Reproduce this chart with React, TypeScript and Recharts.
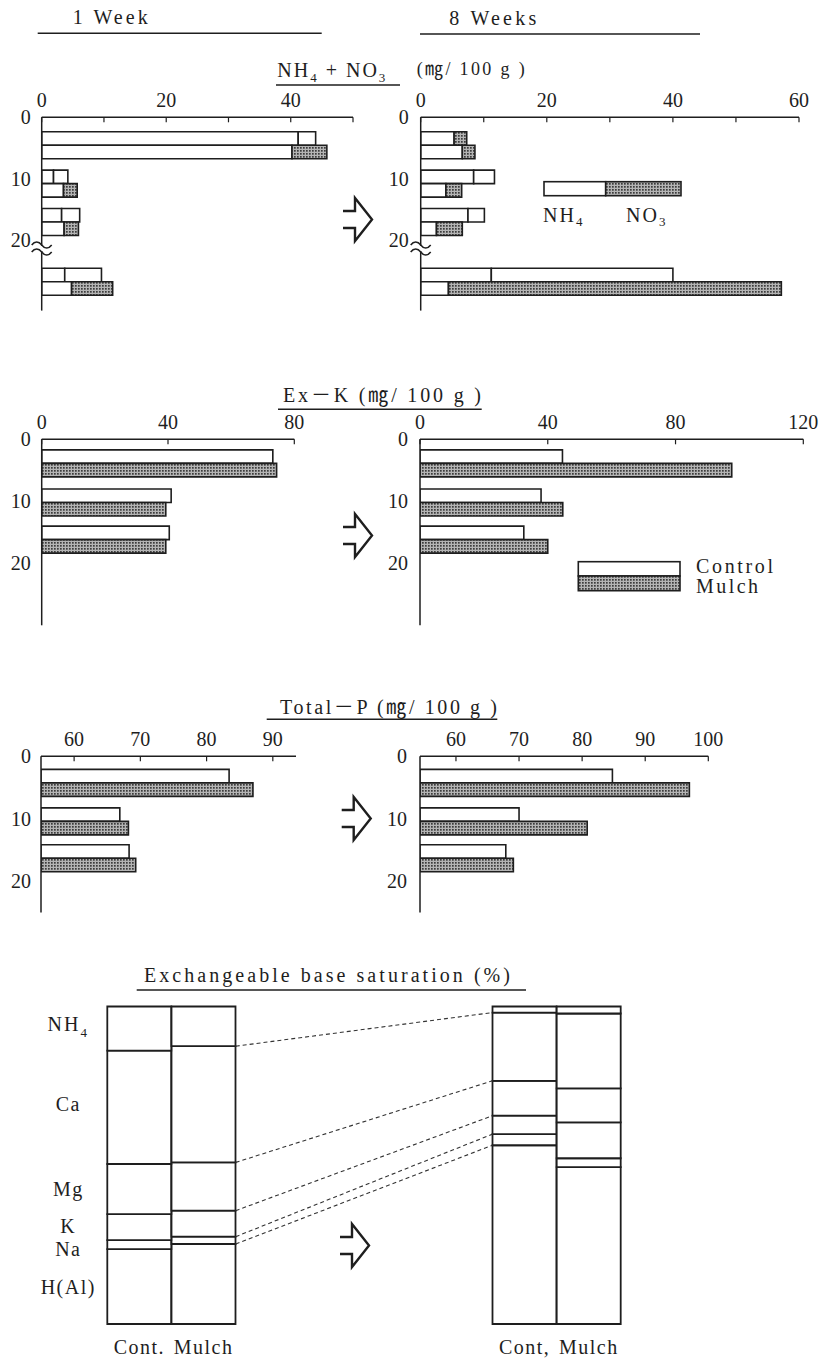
import React from "react";
import { BarChart, Bar, XAxis, YAxis, Cell, ReferenceLine } from "recharts";

const SERIF = "'Liberation Serif', 'DejaVu Serif', serif";
const INK = "#1e1e1e";
const DOTS = "url(#dots)";
const XH = 30;
const YW = 40;

// NH4 + NO3 (mg/100 g); the last layer sits below the axis break
const nDepth = [4.5, 10.75, 17, 26.75];
const n1ContNH4 = [41.2, 1.9, 3.2, 3.7];
const n1ContNO3 = [2.8, 2.3, 2.9, 5.9];
const n1MulchNH4 = [40.2, 3.5, 3.6, 4.8];
const n1MulchNO3 = [5.6, 2.2, 2.3, 6.6];
const n8ContNH4 = [5.3, 8.4, 7.5, 11.2];
const n8ContNO3 = [2.0, 3.3, 2.6, 28.8];
const n8MulchNH4 = [6.6, 4.0, 2.5, 4.4];
const n8MulchNO3 = [2.0, 2.5, 4.1, 52.8];

// Ex-K (mg/100 g)
const kDepth = [3.9, 10.2, 16.2];
const k1Cont = [73.2, 41.0, 40.4];
const k1Mulch = [74.4, 39.3, 39.3];
const k8Cont = [44.6, 37.9, 32.5];
const k8Mulch = [97.6, 44.7, 40.0];

// Total-P (mg/100 g)
const pDepth = [4.25, 10.4, 16.3];
const p1Cont = [83.4, 66.9, 68.3];
const p1Mulch = [87.0, 68.2, 69.3];
const p8Cont = [84.8, 70.0, 67.9];
const p8Mulch = [97.0, 80.8, 69.1];

const depthTicks = [0, 10, 20];
const nTicks1 = [0, 10, 20, 30, 40, 50];
const nLabels1 = [0, 20, 40];
const nTicks8 = [0, 10, 20, 30, 40, 50, 60];
const nLabels8 = [0, 20, 40, 60];
const kTicks1 = [0, 40, 80];
const kTicks8 = [0, 40, 80, 120];
const pTicks1 = [60, 70, 80, 90];
const pTicks8 = [60, 70, 80, 90, 100];

// Exchangeable base saturation (%), top to bottom
const ionKeys = ["NH4", "Ca", "Mg", "K", "Na", "H"];
const ionNames = ["NH4", "Ca", "Mg", "K", "Na", "H(Al)"];
const bs1Cont = [13.9, 35.7, 15.8, 8.2, 2.8, 23.6];
const bs1Mulch = [12.5, 36.6, 15.2, 8.2, 2.3, 25.2];
const bs8Cont = [1.9, 21.5, 11.0, 5.8, 3.5, 56.3];
const bs8Mulch = [2.2, 23.6, 10.7, 11.3, 2.8, 49.4];
const colKeys = ["c1", "m1", "s1", "s2", "s3", "s4", "c8", "m8"];
const colLabels = ["Cont.", "Mulch", "", "", "", "", "Cont,", "Mulch"];

const axisStyle = { stroke: INK, strokeWidth: 1.5 };
const tickFont = { fontSize: 20, fontFamily: SERIF, fill: INK };

type Geo = { left: number; top: number; width: number; height: number; x0: number; x1: number; y0: number; y1: number };

const nRows = (cN: number[], cO: number[], mN: number[], mO: number[]) =>
  nDepth.map((d, i) => ({ depth: d, cNH4: cN[i], cNO3: cO[i], mNH4: mN[i], mNO3: mO[i] }));
const pairRows = (depth: number[], c: number[], m: number[]) =>
  depth.map((d, i) => ({ depth: d, control: c[i], mulch: m[i] }));

function DepthPanel({ geo, data, domain, ticks, labels, depthMax, gap, children }: any) {
  const margin = {
    top: geo.y0 - geo.top - XH,
    left: geo.x0 - geo.left - YW,
    right: geo.left + geo.width - geo.x1,
    bottom: geo.top + geo.height - geo.y1,
  };
  return (
    <div style={{ position: "absolute", left: geo.left, top: geo.top }}>
      <BarChart width={geo.width} height={geo.height} data={data} layout="vertical" margin={margin} barGap={0} barSize={13.5}>
        <XAxis
          type="number"
          orientation="top"
          domain={domain}
          ticks={ticks}
          interval={0}
          allowDataOverflow
          height={XH}
          tickFormatter={(v: number) => (labels.includes(v) ? String(v) : "")}
          axisLine={axisStyle}
          tickLine={{ stroke: INK, strokeWidth: 1.2 }}
          tickSize={-5}
          tickMargin={15}
          tick={tickFont}
        />
        <YAxis
          type="number"
          dataKey="depth"
          domain={[0, depthMax]}
          ticks={depthTicks}
          interval={0}
          allowDataOverflow
          width={YW}
          axisLine={axisStyle}
          tickLine={false}
          tickSize={0}
          tickMargin={gap}
          tick={tickFont}
        />
        {children}
      </BarChart>
    </div>
  );
}

const bar = { stroke: INK, strokeWidth: 1.6, isAnimationActive: false };

function NitrogenBars({ shadeFirstControl }: { shadeFirstControl: boolean }) {
  return [
    <Bar key="a" dataKey="cNH4" stackId="c" fill="#fff" {...bar} />,
    <Bar key="b" dataKey="cNO3" stackId="c" fill="#fff" {...bar}>
      {nDepth.map((_, i) => (
        <Cell key={i} fill={shadeFirstControl && i === 0 ? DOTS : "#fff"} />
      ))}
    </Bar>,
    <Bar key="c" dataKey="mNH4" stackId="m" fill="#fff" {...bar} />,
    <Bar key="d" dataKey="mNO3" stackId="m" fill={DOTS} {...bar} />,
  ];
}

function pairBars() {
  return [
    <Bar key="c" dataKey="control" fill="#fff" {...bar} />,
    <Bar key="m" dataKey="mulch" fill={DOTS} {...bar} />,
  ];
}

// small nudges so the K / Na names do not collide (as in the printed figure)
const ionNudge: Record<string, number> = { NH4: -5, Ca: -3, K: -1, Na: 4 };

function IonLabel(p: any, i: number) {
  if (p.index !== 0) return null;
  const name = ionNames[i];
  const cx = p.x - 39;
  const cy = p.y + p.height / 2 + (ionNudge[ionKeys[i]] || 0);
  if (name === "NH4") {
    return (
      <text x={cx} y={cy} textAnchor="middle" dominantBaseline="central" fontFamily={SERIF} fontSize={20} fill={INK} letterSpacing={2}>
        NH<tspan fontSize={13} dy={8}>4</tspan>
      </text>
    );
  }
  return (
    <text x={cx} y={cy} textAnchor="middle" dominantBaseline="central" fontFamily={SERIF} fontSize={20} fill={INK} letterSpacing={1.5}>
      {name}
    </text>
  );
}

function SaturationChart() {
  const cols: Record<string, number[]> = { c1: bs1Cont, m1: bs1Mulch, c8: bs8Cont, m8: bs8Mulch };
  const data = colKeys.map((k) => {
    const row: Record<string, any> = { col: k };
    const v = cols[k];
    if (v) ionKeys.forEach((ion, i) => (row[ion] = v[i]));
    return row;
  });
  const bounds = (v: number[]) => v.slice(0, 5).map((_, i) => 100 - v.slice(0, i + 1).reduce((a, b) => a + b, 0));
  const from = bounds(bs1Mulch);
  const to = bounds(bs8Cont);
  const stackOrder = ionKeys.map((k, i) => ({ k, i })).reverse();
  return (
    <div style={{ position: "absolute", left: 0, top: 990 }}>
      <BarChart width={823} height={370} data={data} margin={{ top: 16.5, left: 107.3, right: 202.1, bottom: 6 }} barCategoryGap={0} barGap={0}>
        <XAxis
          dataKey="col"
          type="category"
          interval={0}
          tickFormatter={(k: string) => colLabels[colKeys.indexOf(k)]}
          axisLine={false}
          tickLine={false}
          tickSize={0}
          tickMargin={16}
          height={XH}
          tick={{ ...tickFont, letterSpacing: 1.5 }}
        />
        <YAxis hide type="number" domain={[0, 100]} />
        {stackOrder.map(({ k, i }) => (
          <Bar
            key={k}
            dataKey={k}
            stackId="s"
            fill="#fff"
            stroke={INK}
            strokeWidth={1.8}
            isAnimationActive={false}
            label={(p: any) => IonLabel(p, i)}
          />
        ))}
        {from.map((y, i) => (
          <ReferenceLine
            key={i}
            segment={[{ x: "s1", y }, { x: "c8", y: to[i] }]}
            position="start"
            stroke="#333"
            strokeWidth={1.1}
            strokeDasharray="4 3"
          />
        ))}
      </BarChart>
    </div>
  );
}

function Arrow({ x, y }: { x: number; y: number }) {
  return (
    <path
      d={`M${x} ${y + 13}H${x + 12}V${y}L${x + 29} ${y + 21.5}L${x + 12} ${y + 43}V${y + 30}H${x}`}
      fill="none"
      stroke={INK}
      strokeWidth={2.4}
    />
  );
}

function AxisBreak({ x, y }: { x: number; y: number }) {
  const wave = (yy: number) => `M${x - 10} ${yy}c3 -4 7 -4 10 0s7 4 10 0`;
  return (
    <g>
      <rect x={x - 3} y={y + 1} width={6} height={5} fill="#fff" />
      <path d={wave(y)} fill="none" stroke={INK} strokeWidth={1.5} />
      <path d={wave(y + 7)} fill="none" stroke={INK} strokeWidth={1.5} />
    </g>
  );
}

const txt = { fontFamily: SERIF, fontSize: 20, fill: INK };
const unitFont = "'Liberation Serif', 'DejaVu Serif', 'Noto Sans CJK JP', serif";

function Overlay() {
  return (
    <svg width={823} height={1360} style={{ position: "absolute", left: 0, top: 0, pointerEvents: "none" }}>
      <defs>
        <pattern id="dots" width={3} height={3} patternUnits="userSpaceOnUse">
          <rect width={3} height={3} fill="#b4b4b4" />
          <rect width={1.7} height={1.7} fill="#3c3c3c" />
        </pattern>
      </defs>
      <text x={72.7} y={24} textLength={75} lengthAdjust="spacing" {...txt}>1 Week</text>
      <line x1={37.7} x2={321.7} y1={33.3} y2={33.3} stroke={INK} strokeWidth={1.5} />
      <text x={449.3} y={25.3} textLength={87} lengthAdjust="spacing" {...txt}>8 Weeks</text>
      <line x1={420} x2={700} y1={34} y2={34} stroke={INK} strokeWidth={1.5} />

      <text x={277.3} y={77} {...txt} letterSpacing={2}>
        NH<tspan fontSize={13} dy={5}>4</tspan>
        <tspan dy={-5}> + NO</tspan>
        <tspan fontSize={13} dy={5}>3</tspan>
      </text>
      <line x1={276} x2={400} y1={85} y2={85} stroke={INK} strokeWidth={1.5} />
      <text x={416.7} y={75} textLength={108} lengthAdjust="spacing" {...txt} fontFamily={unitFont} fontSize={18}>(㎎/ 100 g )</text>

      <rect x={544} y={181.7} width={61.7} height={14} fill="#fff" stroke={INK} strokeWidth={1.6} />
      <rect x={605.7} y={181.7} width={75.3} height={14} fill={DOTS} stroke={INK} strokeWidth={1.6} />
      <text x={543} y={222} {...txt} letterSpacing={2}>
        NH<tspan fontSize={13} dy={4}>4</tspan>
      </text>
      <text x={626} y={222} {...txt} letterSpacing={2}>
        NO<tspan fontSize={13} dy={4}>3</tspan>
      </text>

      <text x={283} y={402} textLength={198} lengthAdjust="spacing" {...txt} fontFamily={unitFont}>Ex－K (㎎/ 100 g )</text>
      <line x1={278} x2={481.7} y1={409.3} y2={409.3} stroke={INK} strokeWidth={1.5} />

      <rect x={578.3} y={561.7} width={101.7} height={14.3} fill="#fff" stroke={INK} strokeWidth={1.6} />
      <rect x={578.3} y={576} width={101.7} height={14.7} fill={DOTS} stroke={INK} strokeWidth={1.6} />
      <text x={696} y={573} textLength={77} lengthAdjust="spacing" {...txt}>Control</text>
      <text x={696} y={593} textLength={62} lengthAdjust="spacing" {...txt}>Mulch</text>

      <text x={280} y={713.7} textLength={217} lengthAdjust="spacing" {...txt} fontFamily={unitFont}>Total－P (㎎/ 100 g )</text>
      <line x1={266.7} x2={497.3} y1={719.3} y2={719.3} stroke={INK} strokeWidth={1.5} />

      <text x={144} y={982} textLength={366} lengthAdjust="spacing" {...txt}>Exchangeable base saturation (%)</text>
      <line x1={136.7} x2={526} y1={990} y2={990} stroke={INK} strokeWidth={1.5} />

      <AxisBreak x={41.7} y={245} />
      <AxisBreak x={420.7} y={245} />

      <Arrow x={343} y={198} />
      <Arrow x={343} y={514} />
      <Arrow x={341.7} y={797} />
      <Arrow x={340} y={1224} />
    </svg>
  );
}

const geo1: Geo = { left: 0, top: 60, width: 375, height: 262, x0: 41.7, x1: 353, y0: 117.3, y1: 310.6 };
const geo2: Geo = { left: 380, top: 60, width: 440, height: 262, x0: 420.7, x1: 799, y0: 117.3, y1: 310.6 };
const geo3: Geo = { left: 0, top: 380, width: 375, height: 262, x0: 41.7, x1: 294.3, y0: 439.3, y1: 625.3 };
const geo4: Geo = { left: 380, top: 380, width: 440, height: 262, x0: 420, x1: 803.3, y0: 439.3, y1: 625.3 };
const geo5: Geo = { left: 0, top: 700, width: 375, height: 230, x0: 41, x1: 296, y0: 756.3, y1: 912.5 };
const geo6: Geo = { left: 380, top: 700, width: 440, height: 230, x0: 420, x1: 708.3, y0: 756.3, y1: 912.5 };

export default function App() {
  return (
    <div style={{ position: "absolute", left: 0, top: 0, width: 823, height: 1360, background: "#fff", overflow: "hidden" }}>
      <DepthPanel geo={geo1} data={nRows(n1ContNH4, n1ContNO3, n1MulchNH4, n1MulchNO3)} domain={[0, 50]} ticks={nTicks1} labels={nLabels1} depthMax={31.5} gap={11}>
        {NitrogenBars({ shadeFirstControl: false })}
      </DepthPanel>
      <DepthPanel geo={geo2} data={nRows(n8ContNH4, n8ContNO3, n8MulchNH4, n8MulchNO3)} domain={[0, 60]} ticks={nTicks8} labels={nLabels8} depthMax={31.5} gap={12}>
        {NitrogenBars({ shadeFirstControl: true })}
      </DepthPanel>
      <DepthPanel geo={geo3} data={pairRows(kDepth, k1Cont, k1Mulch)} domain={[0, 80]} ticks={kTicks1} labels={kTicks1} depthMax={30} gap={11}>
        {pairBars()}
      </DepthPanel>
      <DepthPanel geo={geo4} data={pairRows(kDepth, k8Cont, k8Mulch)} domain={[0, 120]} ticks={kTicks8} labels={kTicks8} depthMax={30} gap={12}>
        {pairBars()}
      </DepthPanel>
      <DepthPanel geo={geo5} data={pairRows(pDepth, p1Cont, p1Mulch)} domain={[55, 93.5]} ticks={pTicks1} labels={pTicks1} depthMax={25} gap={10}>
        {pairBars()}
      </DepthPanel>
      <DepthPanel geo={geo6} data={pairRows(pDepth, p8Cont, p8Mulch)} domain={[54.3, 100]} ticks={pTicks8} labels={pTicks8} depthMax={25} gap={13}>
        {pairBars()}
      </DepthPanel>
      <SaturationChart />
      <Overlay />
    </div>
  );
}
